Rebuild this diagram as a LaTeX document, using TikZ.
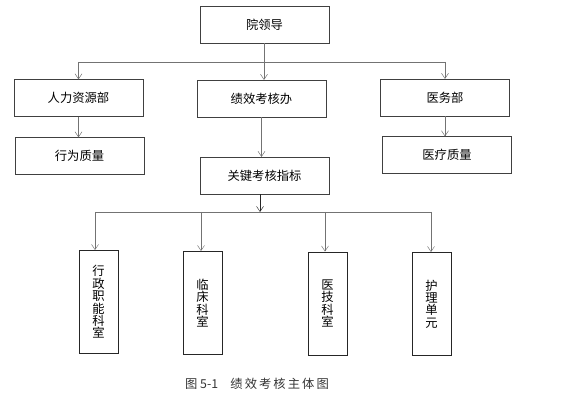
\documentclass[tikz,border=0pt]{standalone}
\usepackage{fontspec}
\usepackage{tikz}
\usetikzlibrary{arrows.meta}
\newfontfamily\cjk{Noto Sans CJK SC}

\begin{document}
\begin{tikzpicture}[x=0.03cm, y=-0.03cm, font=\cjk\fontsize{10.5pt}{10.6pt}\selectfont,
    >={Straight Barb[length=4.5pt,width=6pt]},
    unitbox/.style={draw=black!75, minimum width=3.87cm, minimum height=1.1cm, inner sep=0pt},
    tallbox/.style={draw=black!85, minimum width=1.17cm, minimum height=3.1cm, inner sep=0pt, align=center},
    link/.style={gray!90!black, ->}]
    \useasboundingbox (0,0) rectangle (562,400);

    % first level
    \node[unitbox] (lead) at (264.5,24.5) {院领导};
    \node[unitbox] (hr) at (78.5,98) {人力资源部};
    \node[unitbox] (perf) at (261.5,98.5) {绩效考核办};
    \node[unitbox] (med) at (445,97.5) {医务部};

    % second level
    \node[unitbox] (behav) at (79.5,156) {行为质量};
    \node[unitbox] (kpi) at (264.5,175.5) {关键考核指标};
    \node[unitbox] (medq) at (447,155) {医疗质量};

    % departments
    \node[tallbox] (admin) at (98.5,302) {行\\政\\职\\能\\科\\室};
    \node[tallbox] (clin) at (202.5,303) {临\\床\\科\\室};
    \node[tallbox] (tech) at (327.5,303.5) {医\\技\\科\\室};
    \node[tallbox] (nurse) at (431.5,304) {护\\理\\单\\元};

    \coordinate (bus1) at (264,62);
    \coordinate (bus2) at (260,212);

    \draw[gray!90!black] (bus1 -| hr.north) -- (bus1 -| med.north);
    \draw[link] (bus1 |- lead.south) -- (bus1 |- perf.north);
    \draw[link] (bus1 -| hr.north) -- (hr.north);
    \draw[link] (bus1 -| med.north) -- (med.north);
    \draw[link] (hr.south) -- (hr.south |- behav.north);
    \draw[link] (med.south) -- (med.south |- medq.north);
    \draw[link] (perf.south) -- (perf.south |- kpi.north);

    \draw[black!85, ->] (bus2 |- kpi.south) -- (bus2);
    \draw[gray!90!black] (bus2 -| 95,0) -- (bus2 -| 431,0);
    \foreach \dep/\px in {admin/95, clin/201, tech/325, nurse/431}
        \draw[link] (\px,212) -- (\px,0 |- \dep.north);

    \node[text=black!80] (caption) at (257,384) {图 5-1\quad 绩\,效\,考\,核\,主\,体\,图};
\end{tikzpicture}
\end{document}
